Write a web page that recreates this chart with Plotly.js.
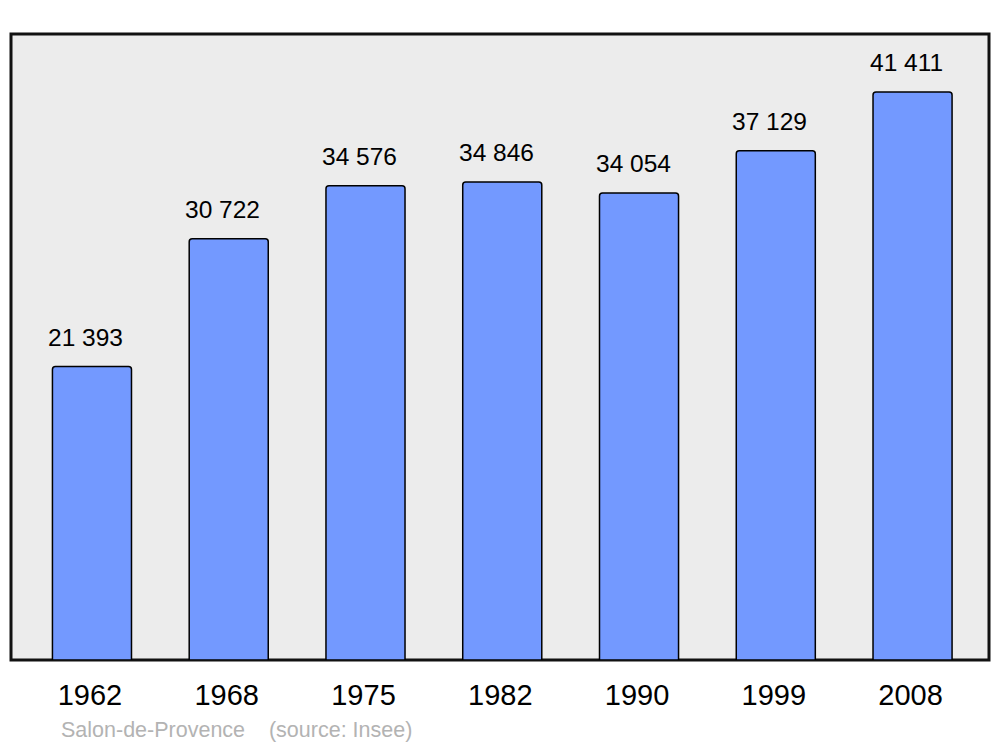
<!DOCTYPE html>
<html>
<head>
<meta charset="utf-8">
<script src="https://cdn.plot.ly/plotly-3.0.1.min.js"></script>
<style>html,body{margin:0;padding:0;background:#fff;}#chart{width:1000px;height:747px;}</style>
</head>
<body>
<div id="chart"></div>
<script>
const years = ["1962", "1968", "1975", "1982", "1990", "1999", "2008"];
const population = [21393, 30722, 34576, 34846, 34054, 37129, 41411];
const valueLabels = ["21 393", "30 722", "34 576", "34 846", "34 054", "37 129", "41 411"];
const caption = "Salon-de-Provence &nbsp;&nbsp; (source: Insee)";

const pos = years.map((_, i) => i);

const trace = {
  type: "bar",
  x: pos,
  y: population,
  width: 0.578,
  marker: {color: "#7399ff", line: {color: "#000", width: 1.5}, cornerradius: 3},
  hoverinfo: "skip"
};

const annotations = pos.map((p, i) => ({
  x: p, y: population[i], xref: "x", yref: "y",
  text: valueLabels[i], showarrow: false,
  xanchor: "center", yanchor: "bottom", yshift: 14, xshift: -6,
  font: {family: "Liberation Sans, Arial, sans-serif", size: 24.5, color: "#000"}
}));
annotations.push({
  xref: "paper", yref: "paper", x: 0.049, y: -0.089,
  xanchor: "left", yanchor: "top",
  text: caption, showarrow: false,
  font: {family: "Liberation Sans, Arial, sans-serif", size: 21.5, color: "#b3b3b3"}
});

const layout = {
  width: 1000, height: 747,
  margin: {l: 11, r: 11, t: 34, b: 87},
  paper_bgcolor: "#fff",
  plot_bgcolor: "rgba(0,0,0,0)",
  showlegend: false,
  xaxis: {
    range: [-0.592, 6.559], tickvals: pos, ticktext: years,
    showgrid: false, zeroline: false, showline: false, ticks: "",
    tickfont: {family: "Liberation Sans, Arial, sans-serif", size: 29, color: "#000"},
    ticklabelstandoff: 15, ticklabelshift: -2, fixedrange: true
  },
  yaxis: {
    range: [0, 45641], showgrid: false, zeroline: false, showline: false,
    showticklabels: false, ticks: "", fixedrange: true
  },
  shapes: [{
    type: "rect", xref: "paper", yref: "paper", x0: 0, x1: 1, y0: 0, y1: 1,
    fillcolor: "#ececec", line: {color: "#111", width: 3}, layer: "below"
  }],
  annotations: annotations
};

Plotly.newPlot("chart", [trace], layout, {displayModeBar: false, staticPlot: true});
</script>
</body>
</html>
